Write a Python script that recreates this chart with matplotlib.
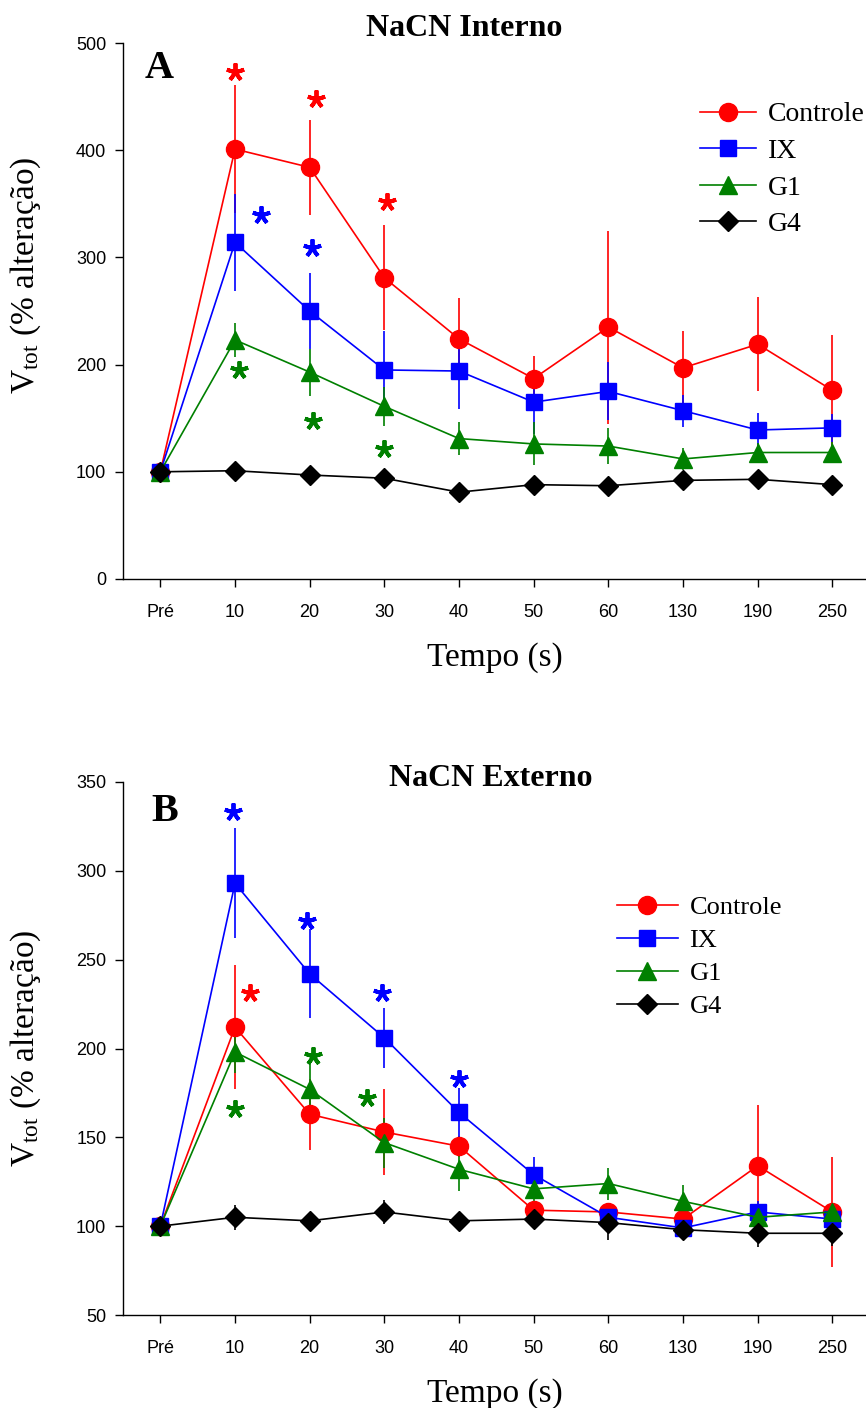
import matplotlib
matplotlib.use("Agg")
import matplotlib.pyplot as plt
import numpy as np

plt.rcParams["mathtext.fontset"] = "custom"
plt.rcParams["mathtext.rm"] = "Liberation Serif"
plt.rcParams["mathtext.it"] = "Liberation Serif:italic"

# time points (categorical axis)
tempos = ["Pré", "10", "20", "30", "40", "50", "60", "130", "190", "250"]
grupos = ["Controle", "IX", "G1", "G4"]

# Panel A - NaCN interno (mean, error)
a_controle = [100, 401, 384, 281, 224, 187, 235, 197, 219, 176]
a_controle_err = [0, 60, 44, 49, 38, 21, 90, 34, 44, 52]
a_ix = [100, 314, 250, 195, 194, 165, 175, 157, 139, 141]
a_ix_err = [0, 45, 35, 36, 35, 30, 27, 15, 16, 13]
a_g1 = [100, 223, 193, 161, 131, 126, 124, 112, 118, 118]
a_g1_err = [0, 16, 22, 18, 15, 20, 17, 10, 9, 10]
a_g4 = [100, 101, 97, 94, 81, 88, 87, 92, 93, 88]
a_g4_err = [0, 3, 4, 4, 3, 3, 3, 3, 3, 3]

# Panel B - NaCN externo
b_controle = [100, 212, 163, 153, 145, 109, 108, 104, 134, 108]
b_controle_err = [0, 35, 20, 24, 6, 5, 5, 12, 34, 31]
b_ix = [100, 293, 242, 206, 164, 129, 105, 99, 108, 104]
b_ix_err = [0, 31, 25, 17, 14, 10, 5, 5, 6, 5]
b_g1 = [100, 198, 177, 147, 132, 121, 124, 114, 105, 108]
b_g1_err = [0, 12, 14, 14, 12, 8, 9, 9, 5, 5]
b_g4 = [100, 105, 103, 108, 103, 104, 102, 98, 96, 96]
b_g4_err = [0, 7, 3, 7, 3, 3, 10, 6, 8, 7]

# significance asterisks: (group, time index, height)
a_sig = [("Controle", 1.0, 473), ("Controle", 2.08, 448), ("Controle", 3.04, 352),
         ("IX", 1.35, 340), ("IX", 2.03, 309),
         ("G1", 1.05, 195), ("G1", 2.04, 147), ("G1", 3.0, 121)]
b_sig = [("IX", 0.97, 333), ("IX", 1.97, 272), ("IX", 2.97, 231), ("IX", 4.0, 183),
         ("Controle", 1.2, 231),
         ("G1", 1.0, 166), ("G1", 2.04, 196), ("G1", 2.77, 172)]

cores = {"Controle": "#ff0000", "IX": "#0000ff", "G1": "#008000", "G4": "#000000"}
marcadores = {"Controle": ("o", 13), "IX": ("s", 12), "G1": ("^", 13), "G4": ("D", 10)}

serif = "Liberation Serif"
sans = ["Liberation Sans Narrow", "Liberation Sans", "DejaVu Sans"]


def painel(ax, series, sig, ylim, yticks, ylabel_y, legend_font, legend_anchor,
           handlelength, spacing):
    x = np.arange(len(tempos))
    handles = []
    for nome, (y, err) in zip(grupos, series):
        m, ms = marcadores[nome]
        c = ax.errorbar(x, y, yerr=err, color=cores[nome], marker=m, ms=ms,
                        lw=1.2, elinewidth=1.2, capsize=0, clip_on=False)
        handles.append(c[0])
    for nome, xi, yi in sig:
        ax.plot(xi, yi, marker=(5, 2, 0), ms=13, mew=2.8, color=cores[nome],
                linestyle="none")

    ax.set_xlim(-0.5, 9.45)
    ax.set_ylim(*ylim)
    ax.set_yticks(yticks)
    ax.set_xticks(x)
    ax.set_xticklabels(tempos)
    for s in ["top", "right"]:
        ax.spines[s].set_visible(False)
    for s in ["left", "bottom"]:
        ax.spines[s].set_linewidth(1.0)
    ax.tick_params(axis="y", direction="out", length=6, width=1.0, pad=6)
    ax.tick_params(axis="x", direction="out", length=6, width=1.0, pad=12)
    for lab in ax.get_xticklabels() + ax.get_yticklabels():
        lab.set_family(sans)
        lab.set_fontsize(13)

    ax.set_xlabel("Tempo (s)", family=serif, fontsize=24, labelpad=15)
    ax.set_ylabel(r"V$_{\rm tot}$ (% alteração)", family=serif, fontsize=24)
    ax.yaxis.set_label_coords(-0.107, ylabel_y)

    leg = ax.legend(handles, grupos, loc="upper left", bbox_to_anchor=legend_anchor,
                    bbox_transform=ax.figure.transFigure, frameon=False,
                    prop={"family": serif, "size": legend_font}, borderpad=0,
                    borderaxespad=0, handlelength=handlelength, handletextpad=0.45,
                    labelspacing=spacing)
    return leg


fig = plt.figure(figsize=(8.66, 14.08), dpi=100)
W, H = 866, 1408

ax_a = fig.add_axes([123 / W, 1 - 579 / H, (W - 123) / W, 536 / H])
painel(ax_a,
       [(a_controle, a_controle_err), (a_ix, a_ix_err), (a_g1, a_g1_err), (a_g4, a_g4_err)],
       a_sig, (0, 500), np.arange(0, 501, 100), 0.567, 20, (700 / W, 1 - 102 / H),
       2.0, 0.4)

ax_b = fig.add_axes([123 / W, 1 - 1315 / H, (W - 123) / W, 533 / H])
painel(ax_b,
       [(b_controle, b_controle_err), (b_ix, b_ix_err), (b_g1, b_g1_err), (b_g4, b_g4_err)],
       b_sig, (50, 350), np.arange(50, 351, 50), 0.5, 19, (617 / W, 1 - 896 / H),
       2.3, 0.36)

fig.text(464 / W, 1 - 29 / H, "NaCN Interno", family=serif, weight="bold",
         fontsize=23, ha="center", va="center")
fig.text(491 / W, 1 - 779 / H, "NaCN Externo", family=serif, weight="bold",
         fontsize=23, ha="center", va="center")
fig.text(159 / W, 1 - 68 / H, "A", family=serif, weight="bold", fontsize=29,
         ha="center", va="center")
fig.text(165 / W, 1 - 811 / H, "B", family=serif, weight="bold", fontsize=29,
         ha="center", va="center")

fig.savefig("out.png", dpi=100)
